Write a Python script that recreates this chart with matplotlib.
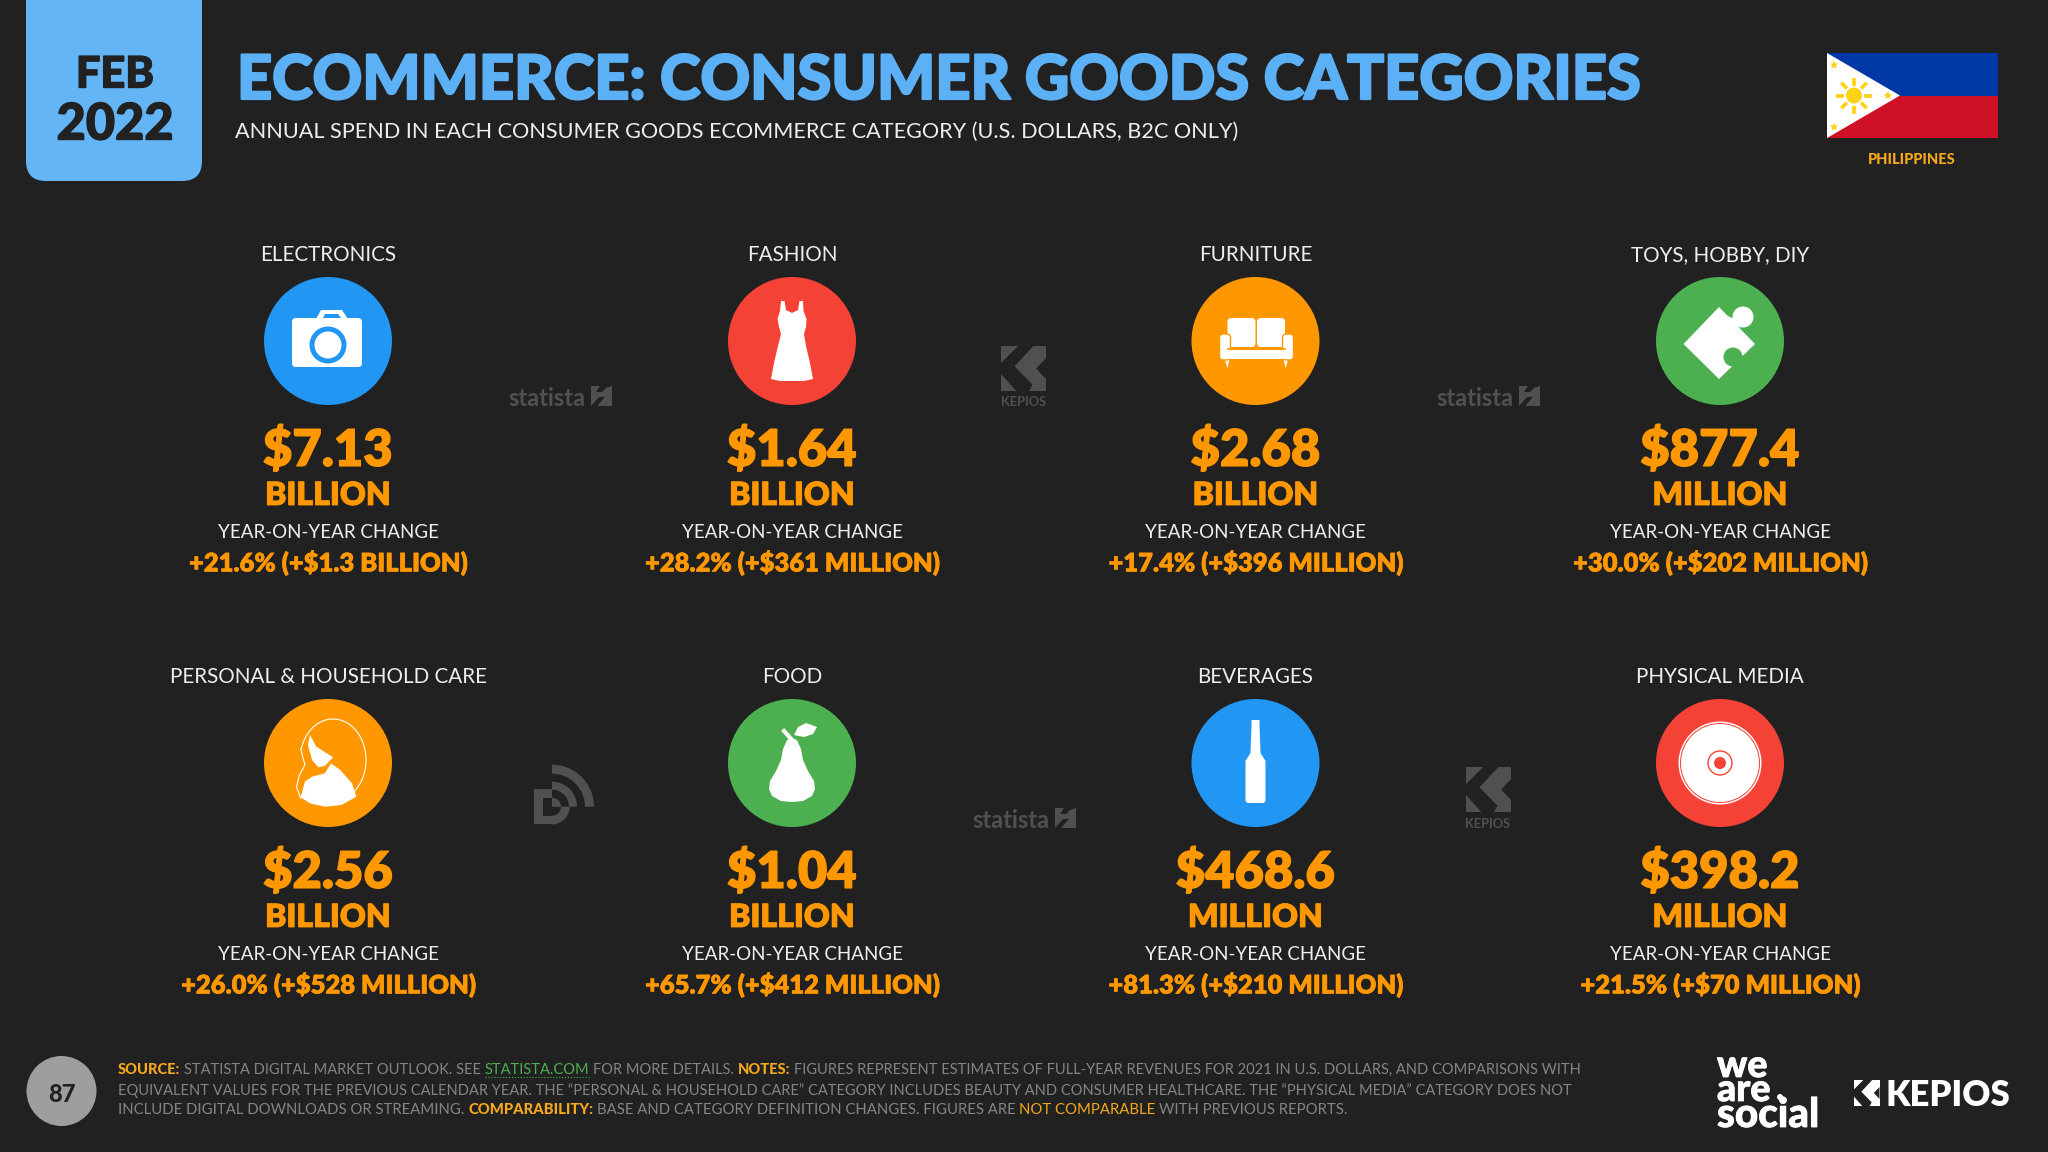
import numpy as np
import matplotlib
matplotlib.use("Agg")
import matplotlib.pyplot as plt
import matplotlib.patheffects as pe
from matplotlib.patches import Circle, Rectangle, Polygon, FancyBboxPatch, Wedge

# chart content
categories = ["ELECTRONICS", "FASHION", "FURNITURE", "TOYS, HOBBY, DIY",
              "PERSONAL & HOUSEHOLD CARE", "FOOD", "BEVERAGES", "PHYSICAL MEDIA"]
values = ["$7.13", "$1.64", "$2.68", "$877.4", "$2.56", "$1.04", "$468.6", "$398.2"]
units = ["BILLION", "BILLION", "BILLION", "MILLION", "BILLION", "BILLION", "MILLION", "MILLION"]
changes = ["+21.6% (+$1.3 BILLION)", "+28.2% (+$361 MILLION)", "+17.4% (+$396 MILLION)",
           "+30.0% (+$202 MILLION)", "+26.0% (+$528 MILLION)", "+65.7% (+$412 MILLION)",
           "+81.3% (+$210 MILLION)", "+21.5% (+$70 MILLION)"]

BG = "#212121"
BLUE = "#2196F3"
RED = "#F44336"
ORANGE = "#FF9800"
GREEN = "#4CAF50"
MARK = "#505052"
GREY = "#858585"
FOOT_OR = "#F5A81C"
circle_colors = [BLUE, RED, ORANGE, GREEN, ORANGE, GREEN, BLUE, RED]

col_x = [328, 792, 1255.5, 1720]
row_y = [0, 422]

plt.rcParams["font.family"] = ["Lato", "DejaVu Sans"]

fig = plt.figure(figsize=(20.48, 11.52), dpi=100, facecolor=BG)
ax = fig.add_axes([0, 0, 1, 1])
ax.set_xlim(0, 2048)
ax.set_ylim(1152, 0)
ax.axis("off")
rend = fig.canvas.get_renderer()


def txt(x, y, s, size, color="white", weight="normal", ha="center", width=None, fat=0, **kw):
    t = ax.text(x, y, s, fontsize=size, color=color, fontweight=weight, ha=ha, va="center_baseline", **kw)
    # rescale to the width measured on the reference
    if width is not None:
        w = t.get_window_extent(rend).width
        t.set_fontsize(size * width / w)
    # Lato stops short of the Futura bold, so thicken with a stroke
    if fat:
        t.set_path_effects([pe.withStroke(linewidth=fat, foreground=color)])
    return t


def poly(pts, color="white", z=3):
    ax.add_patch(Polygon(pts, closed=True, fc=color, ec="none", zorder=z))


def star(cx, cy, r, color):
    ang = np.radians(np.arange(10) * 36 - 90)
    rad = np.where(np.arange(10) % 2 == 0, r, r * 0.42)
    poly(np.c_[cx + rad * np.cos(ang), cy + rad * np.sin(ang)], color, 5)


def statista(x, y):
    # x, y = left and vertical centre
    txt(x, y, "statista", 16, MARK, "bold", ha="left", width=78)
    x0 = x + 83
    ax.add_patch(Rectangle((x0, y - 10), 21, 20, fc=MARK, ec="none"))
    poly([(x0, y + 10), (x0 + 8, y + 1), (x0 + 14, y + 1), (x0 + 6, y + 10)], BG, 4)
    poly([(x0 + 21, y - 10), (x0 + 9, y - 10), (x0 + 5, y - 4), (x0 + 11, y - 4), (x0 + 15, y - 8)], BG, 4)


def kepios_mark(x, y, s, fg, bg=BG):
    # square with the arrow shaped K cut out of it
    ax.add_patch(Rectangle((x, y), s, s, fc=fg, ec="none"))
    pts = [(0.38, 0), (0.72, 0), (0.30, 0.45), (0.70, 0.86), (0.62, 1), (0.34, 1), (0, 0.62), (0, 0.38)]
    poly([(x + a * s, y + b * s) for a, b in pts], bg, 4)
    pts = [(1, 0.27), (1, 0.73), (0.78, 0.5)]
    poly([(x + a * s, y + b * s) for a, b in pts], bg, 4)


# header
ax.add_patch(FancyBboxPatch((26, -30), 176, 211, boxstyle="round,pad=0,rounding_size=20",
                            fc="#64B5F6", ec="none"))
txt(115, 71, "FEB", 36, BG, "black", width=78, fat=1.0)
txt(115, 121, "2022", 36, BG, "black", width=117, fat=1.0)
txt(237, 76, "ECOMMERCE: CONSUMER GOODS CATEGORIES", 48, "#5CB1F6", "black", ha="left", width=1403, fat=1.6)
txt(235, 130, "ANNUAL SPEND IN EACH CONSUMER GOODS ECOMMERCE CATEGORY (U.S. DOLLARS, B2C ONLY)", 16,
    "#EEEEEE", "normal", ha="left", width=1006)

# flag
ax.add_patch(Rectangle((1827, 53), 171, 42.5, fc="#0038A8", ec="none"))
ax.add_patch(Rectangle((1827, 95.5), 171, 42.5, fc="#CE1126", ec="none"))
poly([(1827, 53), (1900, 95.5), (1827, 138)], "white", 4)
ax.add_patch(Circle((1854, 95.5), 8, fc="#FCD116", ec="none", zorder=5))
for a in np.radians(np.arange(8) * 45):
    ax.plot([1854 + 10 * np.cos(a), 1854 + 18 * np.cos(a)], [95.5 + 10 * np.sin(a), 95.5 + 18 * np.sin(a)],
            color="#FCD116", lw=2.6, zorder=5, solid_capstyle="butt")
star(1834, 65, 4.5, "#FCD116")
star(1888, 95.5, 4.5, "#FCD116")
star(1834, 127, 4.5, "#FCD116")
txt(1912, 158, "PHILIPPINES", 11, FOOT_OR, "black", width=87)

# cards
for i in range(8):
    cx = col_x[i % 4]
    dy = row_y[i // 4]
    txt(cx, 253 + dy, categories[i], 14.9, "#EEEEEE")
    ax.add_patch(Circle((cx, 341 + dy), 64, fc=circle_colors[i], ec="none", zorder=2))
    txt(cx, 446 + dy, values[i], 36.5, ORANGE, "heavy", fat=0.8)
    txt(cx, 493 + dy, units[i], 23, ORANGE, "heavy", fat=0.6)
    txt(cx, 531.5 + dy, "YEAR-ON-YEAR CHANGE", 13.5, "#EEEEEE")
    txt(cx, 560.5 + dy, changes[i], 18.4, ORANGE, "heavy", fat=0.4)

# camera
cx, cy = col_x[0], 341
ax.add_patch(FancyBboxPatch((cx - 36, cy - 23), 70, 49, boxstyle="round,pad=0,rounding_size=4", fc="white", ec="none", zorder=3))
poly([(cx - 12, cy - 22), (cx - 7, cy - 31), (cx + 14, cy - 31), (cx + 20, cy - 22)])
poly([(cx - 5, cy - 23), (cx - 3, cy - 27), (cx + 10, cy - 27), (cx + 13, cy - 23)], BLUE, 4)
ax.add_patch(Circle((cx, cy + 4), 18.5, fc=BLUE, ec="none", zorder=4))
ax.add_patch(Circle((cx, cy + 4), 13.5, fc="white", ec="none", zorder=5))

# dress
cx, cy = col_x[1], 341
dress = [(-11, -40), (-7.5, -40), (-6, -31), (0, -28), (6, -31), (7.5, -40), (11, -40), (11.5, -30), (14.5, -22),
         (14, -14), (12, -7), (14, 5), (18, 22), (21, 38), (12, 40), (-12, 40), (-21, 38), (-18, 22), (-14, 5),
         (-11, -7), (-13, -14), (-14.5, -22), (-12, -30)]
poly([(cx + a, cy + b) for a, b in dress])

# sofa
cx, cy = col_x[2], 341
ax.add_patch(FancyBboxPatch((cx - 28, cy - 23), 28, 29, boxstyle="round,pad=0,rounding_size=4", fc="white", ec="none", zorder=3))
ax.add_patch(FancyBboxPatch((cx + 1.5, cy - 23), 28, 29, boxstyle="round,pad=0,rounding_size=4", fc="white", ec="none", zorder=3))
ax.add_patch(FancyBboxPatch((cx - 36, cy - 7), 11, 26, boxstyle="round,pad=0,rounding_size=4", fc="white", ec=ORANGE, lw=1, zorder=4))
ax.add_patch(FancyBboxPatch((cx + 27, cy - 7), 11, 26, boxstyle="round,pad=0,rounding_size=4", fc="white", ec=ORANGE, lw=1, zorder=4))
ax.add_patch(Rectangle((cx - 30, cy + 9), 60, 9, fc="white", ec="none", zorder=5))
ax.plot([cx - 28, cx + 29], [cy + 7.5, cy + 7.5], color=ORANGE, lw=1.2, zorder=6)
poly([(cx - 31, cy + 18), (cx - 26, cy + 18), (cx - 28, cy + 27)])
poly([(cx + 28, cy + 18), (cx + 33, cy + 18), (cx + 30, cy + 27)])

# puzzle piece
cx, cy = col_x[3], 341
poly([(cx - 36.5, cy + 3), (cx - 1, cy - 34), (cx + 35, cy + 3), (cx - 1, cy + 38)])
ax.add_patch(Circle((cx + 23, cy - 24), 10.5, fc="white", ec="none", zorder=4))
ax.add_patch(Circle((cx + 13, cy + 16), 9.5, fc=GREEN, ec="none", zorder=4))
poly([(cx + 17, cy + 19), (cx + 27, cy + 12), (cx + 26, cy + 22), (cx + 18, cy + 28)], GREEN, 4)
poly([(cx + 8, cy - 25), (cx + 16, cy - 21), (cx + 20, cy - 12), (cx + 10, cy - 12)], "white", 4)


# face and hair
def woman(px, py):
    return [(230 + a / 2.376, 680 + b / 3) for a, b in zip(px, py)]


poly(woman([190, 205, 245, 225, 210, 195, 185], [165, 200, 232, 258, 262, 240, 195]))
poly(woman([168, 178, 195, 225, 240, 262, 290, 300, 265, 225, 190],
           [352, 305, 290, 280, 250, 270, 310, 350, 375, 380, 370]))
th = np.radians(np.linspace(-165, 60, 60))
ax.plot(333 + 33 * np.cos(th), 760 + 41 * np.sin(th), color="white", lw=0.8, zorder=3)
hair2 = woman([168, 178, 165, 158, 168], [207, 255, 285, 320, 355])
ax.plot(*zip(*hair2), color="white", lw=0.8, zorder=3)

# pear
cx, cy = col_x[1], 763
pear = [(-5, -23), (0, -25), (5, -23), (9, -14), (11, -3), (16, 8), (22, 18), (23, 26), (20, 33), (11, 38), (0, 39),
        (-11, 38), (-20, 33), (-23, 26), (-22, 18), (-16, 8), (-11, -3), (-9, -14)]
poly([(cx + a, cy + b) for a, b in pear])
ax.plot([cx - 8, cx + 1], [cy - 32, cy - 22], color="white", lw=3, zorder=3)
poly([(cx + 2, cy - 28), (cx + 6, cy - 36), (cx + 14, cy - 40), (cx + 25, cy - 36), (cx + 21, cy - 29), (cx + 12, cy - 26)])

# bottle
cx, cy = col_x[2], 763
ax.add_patch(FancyBboxPatch((cx - 10, cy - 4), 20, 44, boxstyle="round,pad=0,rounding_size=3", fc="white", ec="none", zorder=3))
poly([(cx - 4, cy - 43), (cx + 4, cy - 43), (cx + 4, cy - 37), (cx + 5, cy - 10), (cx + 10, cy - 2),
      (cx - 10, cy - 2), (cx - 5, cy - 10), (cx - 4, cy - 37)])

# disc
cx, cy = col_x[3], 763
ax.add_patch(Circle((cx, cy), 41.5, fc="white", ec="none", zorder=3))
ax.add_patch(Circle((cx, cy), 40, fc=RED, ec="none", zorder=4))
ax.add_patch(Circle((cx, cy), 39, fc="white", ec="none", zorder=5))
ax.add_patch(Circle((cx, cy), 12, fc="white", ec=RED, lw=1, zorder=6))
ax.add_patch(Circle((cx, cy), 6, fc=RED, ec="none", zorder=7))

# watermarks
statista(508, 396)
statista(1436, 396)
statista(972, 818)
kepios_mark(1001, 346, 45, MARK)
txt(1024, 401, "KEPIOS", 8, MARK, "bold", width=45)
kepios_mark(1466, 767, 45, MARK)
txt(1488, 823, "KEPIOS", 8, MARK, "bold", width=45)

# datareportal mark
ax.add_patch(Wedge((552, 806.7), 42, 270, 360, width=9, fc=MARK, ec="none"))
ax.add_patch(Wedge((552, 806.7), 25, 270, 360, width=8, fc=MARK, ec="none"))
ax.add_patch(Rectangle((534.3, 789), 17.7, 35.4, fc=MARK, ec="none"))
ax.add_patch(Wedge((552, 806.7), 17.7, 0, 90, fc=MARK, ec="none"))
ax.add_patch(Wedge((552, 806.7), 9, 0, 90, fc=BG, ec="none", zorder=3))
ax.add_patch(Rectangle((542.7, 797.7), 9.3, 18, fc=BG, ec="none", zorder=3))
ax.add_patch(Wedge((552, 806.7), 9, 270, 360, fc=MARK, ec="none", zorder=4))

# footer
ax.add_patch(Circle((61.5, 1091), 35, fc="#9E9E9E", ec="none"))
txt(61.5, 1092, "87", 17, BG, "black")

foot_lines = [
    [("SOURCE:", FOOT_OR, "black"), (" STATISTA DIGITAL MARKET OUTLOOK. SEE ", GREY, "normal"),
     ("STATISTA.COM", GREEN, "normal"), (" FOR MORE DETAILS. ", GREY, "normal"), ("NOTES:", FOOT_OR, "black"),
     (" FIGURES REPRESENT ESTIMATES OF FULL-YEAR REVENUES FOR 2021 IN U.S. DOLLARS, AND COMPARISONS WITH", GREY, "normal")],
    [("EQUIVALENT VALUES FOR THE PREVIOUS CALENDAR YEAR. THE \u201cPERSONAL & HOUSEHOLD CARE\u201d CATEGORY INCLUDES BEAUTY AND CONSUMER HEALTHCARE. THE \u201cPHYSICAL MEDIA\u201d CATEGORY DOES NOT", GREY, "normal")],
    [("INCLUDE DIGITAL DOWNLOADS OR STREAMING. ", GREY, "normal"), ("COMPARABILITY:", FOOT_OR, "black"),
     (" BASE AND CATEGORY DEFINITION CHANGES. FIGURES ARE ", GREY, "normal"), ("NOT COMPARABLE", FOOT_OR, "normal"),
     (" WITH PREVIOUS REPORTS.", GREY, "normal")],
]
foot_y = [1068, 1089, 1109]
foot_w = [1452, 1448, 1223]


def seg_width(s, size, weight):
    # keep the spaces at the ends in the measurement
    t = ax.text(0, 0, "|" + s + "|", fontsize=size, fontweight=weight)
    u = ax.text(0, 0, "||", fontsize=size, fontweight=weight)
    w = t.get_window_extent(rend).width - u.get_window_extent(rend).width
    t.remove()
    u.remove()
    return w


for line, y, target in zip(foot_lines, foot_y, foot_w):
    size = 12.0
    size *= target / sum(seg_width(s, size, wt) for s, c, wt in line)
    x = 118
    for s, c, wt in line:
        w = seg_width(s, size, wt)
        lead = seg_width(" ", size, wt) if s.startswith(" ") else 0
        ax.text(x + lead, y, s.strip(), fontsize=size, color=c, fontweight=wt, ha="left", va="center_baseline")
        if s.strip() == "STATISTA.COM":
            ax.plot([x, x + w], [y + 9, y + 9], color=GREEN, lw=0.8, ls=":")
        x += w

# logos
txt(1717, 1063, "we", 27, "white", "black", ha="left", fat=0.6)
txt(1717, 1087, "are", 27, "white", "black", ha="left", fat=0.6)
txt(1717, 1112, "social", 27, "white", "black", ha="left", width=102, fat=0.6)
ax.add_patch(Circle((1780, 1097), 3, fc="white", ec="none"))
kepios_mark(1853.5, 1080, 26, "white")
txt(1886, 1093, "KEPIOS", 26, "white", "heavy", ha="left", width=124)

fig.savefig("out.png", dpi=100, facecolor=BG)
